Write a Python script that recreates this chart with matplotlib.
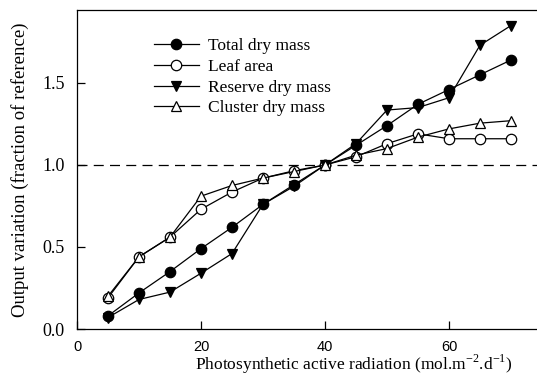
import matplotlib
matplotlib.use("Agg")
import matplotlib.pyplot as plt

par = [5, 10, 15, 20, 25, 30, 35, 40, 45, 50, 55, 60, 65, 70]
total_dry = [0.08, 0.22, 0.35, 0.49, 0.62, 0.76, 0.88, 1.0, 1.12, 1.24, 1.37, 1.46, 1.55, 1.64]
leaf_area = [0.19, 0.44, 0.56, 0.73, 0.835, 0.92, 0.965, 1.0, 1.05, 1.13, 1.19, 1.16, 1.16, 1.16]
reserve_dry = [0.07, 0.18, 0.225, 0.34, 0.46, 0.76, 0.87, 1.0, 1.13, 1.335, 1.35, 1.41, 1.73, 1.85]
cluster_dry = [0.2, 0.44, 0.56, 0.81, 0.875, 0.92, 0.96, 1.0, 1.06, 1.10, 1.17, 1.22, 1.255, 1.27]

serif = ["Liberation Serif", "DejaVu Serif"]

fig = plt.figure(figsize=(5.37, 3.77), dpi=100)
ax = fig.add_axes([0.1434, 0.1273, 0.8566, 0.8462])

ax.axhline(1.0, color="black", lw=0.9, ls=(0, (8, 5)), zorder=1)

kw = dict(color="black", lw=0.9, ms=7.5, mec="black", mew=0.9)
ax.plot(par, total_dry, marker="o", mfc="black", label="Total dry mass", **kw)
ax.plot(par, leaf_area, marker="o", mfc="white", label="Leaf area", **kw)
ax.plot(par, reserve_dry, marker="v", mfc="black", label="Reserve dry mass", **kw)
ax.plot(par, cluster_dry, marker="^", mfc="white", label="Cluster dry mass", **kw)

ax.set_xlim(0, 74.2)
ax.set_ylim(0, 1.945)
ax.set_xticks([0, 20, 40, 60])
ax.set_yticks([0, 0.5, 1.0, 1.5])
ax.set_yticklabels(["0.0", "0.5", "1.0", "1.5"], family=serif, fontsize=13)
ax.set_xticklabels(["0", "20", "40", "60"], family="Liberation Sans", fontsize=10.5)
ax.tick_params(direction="in", length=6, width=0.9)
ax.tick_params(axis="y", pad=9)
ax.tick_params(axis="x", pad=8)
ax.spines["right"].set_visible(False)
for s in ["left", "bottom", "top"]:
    ax.spines[s].set_linewidth(0.9)

ax.set_xlabel("Photosynthetic active radiation (mol.m$^{\\mathregular{-2}}$.d$^{\\mathregular{-1}}$)",
              family=serif, fontsize=12.5)
ax.xaxis.set_label_coords(0.602, -0.075)
ax.set_ylabel("Output variation (fraction of reference)", family=serif, fontsize=13.5)
ax.yaxis.set_label_coords(-0.105, 0.5)

leg = ax.legend(loc="upper left", bbox_to_anchor=(0.168, 0.913), frameon=False,
                prop={"family": serif, "size": 12.5}, handlelength=2.55,
                labelspacing=0.27, handletextpad=0.55, borderaxespad=0, borderpad=0)

fig.savefig("out.png", dpi=100)
